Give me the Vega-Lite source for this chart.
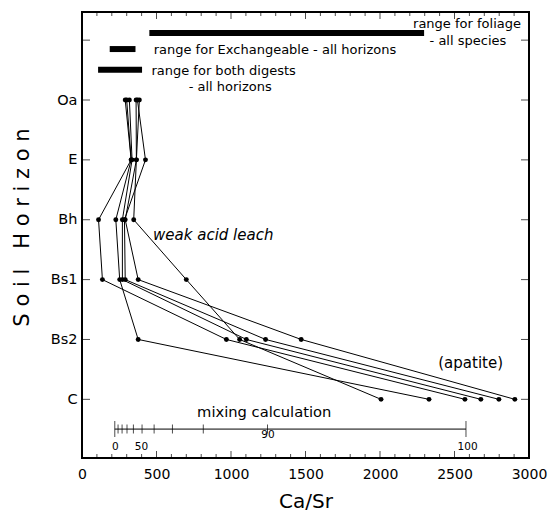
{
  "$schema": "https://vega.github.io/schema/vega-lite/v6.json",
  "width": 447,
  "height": 446,
  "autosize": "none",
  "padding": {"left": 82, "top": 12, "right": 20, "bottom": 56},
  "background": "white",
  "config": {
    "view": {"stroke": "black", "strokeWidth": 2},
    "font": "DejaVu Sans",
    "axis": {"domain": false, "grid": false, "labelColor": "black", "titleColor": "black", "labelFont": "DejaVu Sans", "titleFont": "DejaVu Sans"}
  },
  "datasets": {
    "profiles": [
      {"profile": "P1", "horizon": "Oa", "level": 6, "casr": 300},
      {"profile": "P1", "horizon": "E", "level": 5, "casr": 330},
      {"profile": "P1", "horizon": "Bh", "level": 4, "casr": 111},
      {"profile": "P1", "horizon": "Bs1", "level": 3, "casr": 137},
      {"profile": "P1", "horizon": "Bs2", "level": 2, "casr": 969},
      {"profile": "P1", "horizon": "C", "level": 1, "casr": 2570},
      {"profile": "P2", "horizon": "Oa", "level": 6, "casr": 290},
      {"profile": "P2", "horizon": "E", "level": 5, "casr": 330},
      {"profile": "P2", "horizon": "Bh", "level": 4, "casr": 227},
      {"profile": "P2", "horizon": "Bs1", "level": 3, "casr": 253},
      {"profile": "P2", "horizon": "Bs2", "level": 2, "casr": 377},
      {"profile": "P2", "horizon": "C", "level": 1, "casr": 2329},
      {"profile": "P3", "horizon": "Oa", "level": 6, "casr": 318},
      {"profile": "P3", "horizon": "E", "level": 5, "casr": 336},
      {"profile": "P3", "horizon": "Bh", "level": 4, "casr": 271},
      {"profile": "P3", "horizon": "Bs1", "level": 3, "casr": 271},
      {"profile": "P3", "horizon": "Bs2", "level": 2, "casr": 1103},
      {"profile": "P3", "horizon": "C", "level": 1, "casr": 2677},
      {"profile": "P4", "horizon": "Oa", "level": 6, "casr": 372},
      {"profile": "P4", "horizon": "E", "level": 5, "casr": 426},
      {"profile": "P4", "horizon": "Bh", "level": 4, "casr": 285},
      {"profile": "P4", "horizon": "Bs1", "level": 3, "casr": 290},
      {"profile": "P4", "horizon": "Bs2", "level": 2, "casr": 1232},
      {"profile": "P4", "horizon": "C", "level": 1, "casr": 2798},
      {"profile": "P5", "horizon": "Oa", "level": 6, "casr": 385},
      {"profile": "P5", "horizon": "E", "level": 5, "casr": 365},
      {"profile": "P5", "horizon": "Bh", "level": 4, "casr": 347},
      {"profile": "P5", "horizon": "Bs1", "level": 3, "casr": 700},
      {"profile": "P5", "horizon": "Bs2", "level": 2, "casr": 1058},
      {"profile": "P5", "horizon": "C", "level": 1, "casr": 2007},
      {"profile": "P6", "horizon": "Oa", "level": 6, "casr": 363},
      {"profile": "P6", "horizon": "E", "level": 5, "casr": 365},
      {"profile": "P6", "horizon": "Bh", "level": 4, "casr": 290},
      {"profile": "P6", "horizon": "Bs1", "level": 3, "casr": 377},
      {"profile": "P6", "horizon": "Bs2", "level": 2, "casr": 1471},
      {"profile": "P6", "horizon": "C", "level": 1, "casr": 2905}
    ],
    "xmajor": [
      {"casr": 0}, {"casr": 500}, {"casr": 1000}, {"casr": 1500}, {"casr": 2000}, {"casr": 2500}, {"casr": 3000}
    ],
    "xminor": [
      {"casr": 100}, {"casr": 200}, {"casr": 300}, {"casr": 400}, {"casr": 600}, {"casr": 700}, {"casr": 800}, {"casr": 900},
      {"casr": 1100}, {"casr": 1200}, {"casr": 1300}, {"casr": 1400}, {"casr": 1600}, {"casr": 1700}, {"casr": 1800}, {"casr": 1900},
      {"casr": 2100}, {"casr": 2200}, {"casr": 2300}, {"casr": 2400}, {"casr": 2600}, {"casr": 2700}, {"casr": 2800}, {"casr": 2900}
    ],
    "yticks": [
      {"level": 1}, {"level": 2}, {"level": 3}, {"level": 4}, {"level": 5}, {"level": 6}, {"level": 7}
    ],
    "bars": [
      {"range": "foliage", "lo": 452, "hi": 2296, "level": 7.119},
      {"range": "exchangeable", "lo": 186, "hi": 359, "level": 6.851},
      {"range": "digests", "lo": 108, "hi": 403, "level": 6.506}
    ],
    "notes": [
      {"grp": "foliage", "label": "range for foliage", "casr": 2584, "level": 7.269},
      {"grp": "foliage", "label": "- all species", "casr": 2590, "level": 6.985},
      {"grp": "range", "label": "range for Exchangeable - all horizons", "casr": 481, "level": 6.835},
      {"grp": "range", "label": "range for both digests", "casr": 466, "level": 6.489},
      {"grp": "range", "label": "- all horizons", "casr": 716, "level": 6.212},
      {"grp": "italic", "label": "weak acid leach", "casr": 477, "level": 3.746},
      {"grp": "apatite", "label": "(apatite)", "casr": 2391, "level": 1.604},
      {"grp": "mixtitle", "label": "mixing calculation", "casr": 1223, "level": 0.78},
      {"grp": "mixlabel", "label": "0", "casr": 223, "level": 0.212},
      {"grp": "mixlabel", "label": "50", "casr": 399, "level": 0.212},
      {"grp": "mixlabel", "label": "90", "casr": 1248, "level": 0.41},
      {"grp": "mixlabel", "label": "100", "casr": 2588, "level": 0.212}
    ],
    "mixline": [
      {"lo": 220, "hi": 2577, "level": 0.503}
    ],
    "mixticks": [
      {"pct": 10, "casr": 242, "level": 0.503},
      {"pct": 20, "casr": 269, "level": 0.503},
      {"pct": 30, "casr": 302, "level": 0.503},
      {"pct": 40, "casr": 345, "level": 0.503},
      {"pct": 50, "casr": 403, "level": 0.503},
      {"pct": 60, "casr": 484, "level": 0.503},
      {"pct": 70, "casr": 607, "level": 0.503},
      {"pct": 80, "casr": 814, "level": 0.503},
      {"pct": 90, "casr": 1245, "level": 0.503}
    ],
    "mixends": [
      {"pct": 0, "casr": 220, "level": 0.503},
      {"pct": 100, "casr": 2577, "level": 0.503}
    ]
  },
  "layer": [
    {
      "data": {"name": "profiles"},
      "mark": {"type": "line", "color": "black", "strokeWidth": 1},
      "encoding": {
        "x": {
          "field": "casr", "type": "quantitative",
          "scale": {"domain": [0, 3000], "nice": false, "zero": false},
          "axis": {
            "orient": "bottom",
            "values": [0,500,1000,1500,2000,2500,3000],
            "format": "d",
            "ticks": false,
            "tickSize": 0,
            "labelPadding": 9.5,
            "labelFontSize": 14,
            "labelFlush": false,
            "labelOverlap": false,
            "title": "Ca/Sr",
            "titleFontSize": 20,
            "titleFontWeight": "normal",
            "titlePadding": 10
          }
        },
        "y": {
          "field": "level", "type": "quantitative",
          "scale": {"domain": [0.02, 7.47], "nice": false, "zero": false},
          "axis": {
            "orient": "left",
            "values": [1,2,3,4,5,6,7],
            "labelExpr": "['','C','Bs2','Bs1','Bh','E','Oa',''][datum.value]",
            "ticks": false,
            "tickSize": 0,
            "labelPadding": 5,
            "labelFontSize": 14.5,
            "title": "S o i l \u00a0 H o r i z o n",
            "titleFontSize": 21,
            "titleFontWeight": "normal",
            "titlePadding": 18,
            "titleY": 215
          }
        },
        "detail": {"field": "profile"},
        "order": {"field": "level", "sort": "descending"}
      }
    },
    {
      "data": {"name": "profiles"},
      "mark": {"type": "circle", "color": "black", "opacity": 1, "size": 24},
      "encoding": {
        "x": {"field": "casr", "type": "quantitative"},
        "y": {"field": "level", "type": "quantitative"}
      }
    },
    {
      "data": {"name": "xmajor"},
      "mark": {"type": "tick", "color": "black", "orient": "vertical", "size": 14, "thickness": 1, "clip": true},
      "encoding": {
        "x": {"field": "casr", "type": "quantitative"},
        "y": {"datum": 0.02, "type": "quantitative"}
      }
    },
    {
      "data": {"name": "xmajor"},
      "mark": {"type": "tick", "color": "black", "orient": "vertical", "size": 14, "thickness": 1, "clip": true},
      "encoding": {
        "x": {"field": "casr", "type": "quantitative"},
        "y": {"datum": 7.47, "type": "quantitative"}
      }
    },
    {
      "data": {"name": "xminor"},
      "mark": {"type": "tick", "color": "black", "orient": "vertical", "size": 8, "thickness": 1, "clip": true},
      "encoding": {
        "x": {"field": "casr", "type": "quantitative"},
        "y": {"datum": 0.02, "type": "quantitative"}
      }
    },
    {
      "data": {"name": "xminor"},
      "mark": {"type": "tick", "color": "black", "orient": "vertical", "size": 8, "thickness": 1, "clip": true},
      "encoding": {
        "x": {"field": "casr", "type": "quantitative"},
        "y": {"datum": 7.47, "type": "quantitative"}
      }
    },
    {
      "data": {"name": "yticks"},
      "mark": {"type": "tick", "color": "black", "orient": "horizontal", "size": 16, "thickness": 1, "clip": true},
      "encoding": {
        "x": {"datum": 0, "type": "quantitative"},
        "y": {"field": "level", "type": "quantitative"}
      }
    },
    {
      "data": {"name": "yticks"},
      "mark": {"type": "tick", "color": "black", "orient": "horizontal", "size": 16, "thickness": 1, "clip": true},
      "encoding": {
        "x": {"datum": 3000, "type": "quantitative"},
        "y": {"field": "level", "type": "quantitative"}
      }
    },
    {
      "data": {"name": "bars"},
      "mark": {"type": "rule", "color": "black", "strokeWidth": 6, "strokeCap": "butt"},
      "encoding": {
        "x": {"field": "lo", "type": "quantitative"},
        "x2": {"field": "hi"},
        "y": {"field": "level", "type": "quantitative"}
      }
    },
    {
      "data": {"name": "mixline"},
      "mark": {"type": "rule", "color": "black", "strokeWidth": 1},
      "encoding": {
        "x": {"field": "lo", "type": "quantitative"},
        "x2": {"field": "hi"},
        "y": {"field": "level", "type": "quantitative"}
      }
    },
    {
      "data": {"name": "mixticks"},
      "mark": {"type": "tick", "color": "black", "orient": "vertical", "size": 9, "thickness": 1},
      "encoding": {
        "x": {"field": "casr", "type": "quantitative"},
        "y": {"field": "level", "type": "quantitative"}
      }
    },
    {
      "data": {"name": "mixends"},
      "mark": {"type": "tick", "color": "black", "orient": "vertical", "size": 16, "thickness": 1},
      "encoding": {
        "x": {"field": "casr", "type": "quantitative"},
        "y": {"field": "level", "type": "quantitative"}
      }
    },
    {
      "data": {"name": "notes"},
      "transform": [{"filter": "datum.grp === 'range'"}],
      "mark": {"type": "text", "align": "left", "baseline": "middle", "fontSize": 13, "color": "black"},
      "encoding": {
        "x": {"field": "casr", "type": "quantitative"},
        "y": {"field": "level", "type": "quantitative"},
        "text": {"field": "label"}
      }
    },
    {
      "data": {"name": "notes"},
      "transform": [{"filter": "datum.grp === 'foliage'"}],
      "mark": {"type": "text", "align": "center", "baseline": "middle", "fontSize": 13, "color": "black"},
      "encoding": {
        "x": {"field": "casr", "type": "quantitative"},
        "y": {"field": "level", "type": "quantitative"},
        "text": {"field": "label"}
      }
    },
    {
      "data": {"name": "notes"},
      "transform": [{"filter": "datum.grp === 'italic'"}],
      "mark": {"type": "text", "align": "left", "baseline": "middle", "fontSize": 15, "fontStyle": "italic", "color": "black"},
      "encoding": {
        "x": {"field": "casr", "type": "quantitative"},
        "y": {"field": "level", "type": "quantitative"},
        "text": {"field": "label"}
      }
    },
    {
      "data": {"name": "notes"},
      "transform": [{"filter": "datum.grp === 'apatite'"}],
      "mark": {"type": "text", "align": "left", "baseline": "middle", "fontSize": 15, "color": "black"},
      "encoding": {
        "x": {"field": "casr", "type": "quantitative"},
        "y": {"field": "level", "type": "quantitative"},
        "text": {"field": "label"}
      }
    },
    {
      "data": {"name": "notes"},
      "transform": [{"filter": "datum.grp === 'mixtitle'"}],
      "mark": {"type": "text", "align": "center", "baseline": "middle", "fontSize": 14.7, "color": "black"},
      "encoding": {
        "x": {"field": "casr", "type": "quantitative"},
        "y": {"field": "level", "type": "quantitative"},
        "text": {"field": "label"}
      }
    },
    {
      "data": {"name": "notes"},
      "transform": [{"filter": "datum.grp === 'mixlabel'"}],
      "mark": {"type": "text", "align": "center", "baseline": "middle", "fontSize": 10.5, "color": "black"},
      "encoding": {
        "x": {"field": "casr", "type": "quantitative"},
        "y": {"field": "level", "type": "quantitative"},
        "text": {"field": "label"}
      }
    }
  ]
}
